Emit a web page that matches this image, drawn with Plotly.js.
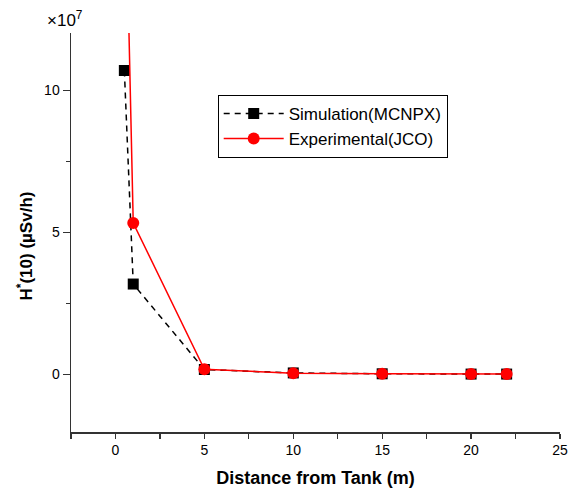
<!DOCTYPE html>
<html>
<head>
<meta charset="utf-8">
<script src="https://cdn.plot.ly/plotly-3.0.1.min.js"></script>
<style>html,body{margin:0;padding:0;background:#fff;}#chart{width:568px;height:488px;}</style>
</head>
<body>
<div id="chart"></div>
<script>
// Values in units of 1e7 µSv/h
const simDistance = [0.5, 1, 5, 10, 15, 20, 22];
const simDose = [10.7, 3.18, 0.17, 0.05, 0.02, 0.01, 0.01];
const expDistance = [0.5, 1, 5, 10, 15, 20, 22];
const expDose = [19.3, 5.33, 0.18, 0.04, 0.02, 0.01, 0.01];
const simName = "Simulation(MCNPX)";
const expName = "Experimental(JCO)";
const xTitle = "Distance from Tank (m)";
const yTitle = "H<sup>*</sup>(10) (µSv/h)";
const exponentLabel = "×10<sup>7</sup>";

const font = "Liberation Sans, Arial, sans-serif";

const traces = [
  {
    x: simDistance, y: simDose, name: simName, type: "scatter", mode: "lines+markers",
    line: {color: "#000", width: 1.5, dash: "6px,5px"},
    marker: {symbol: "square", size: 11, color: "#000"}
  },
  {
    x: expDistance, y: expDose, name: expName, type: "scatter", mode: "lines+markers",
    line: {color: "#ff0000", width: 1.5},
    marker: {symbol: "circle", size: 12, color: "#ff0000"}
  }
];

const layout = {
  width: 568, height: 488,
  margin: {l: 71, r: 8, t: 33, b: 56},
  paper_bgcolor: "#fff", plot_bgcolor: "#fff",
  font: {family: font, size: 14, color: "#000"},
  showlegend: true,
  legend: {
    x: 0.30, y: 0.845, xanchor: "left", yanchor: "top",
    bordercolor: "#000", borderwidth: 1, bgcolor: "#fff",
    font: {family: font, size: 17, color: "#000"},
    itemwidth: 60, tracegroupgap: 0
  },
  xaxis: {
    range: [-2.5, 25], tick0: 0, dtick: 5,
    showgrid: false, zeroline: false,
    showline: true, linecolor: "#333", linewidth: 1.5,
    ticks: "outside", ticklen: 5, tickwidth: 1.2, tickcolor: "#333",
    minor: {dtick: 2.5, tick0: 0, ticks: "outside", ticklen: 5, tickwidth: 1.2, tickcolor: "#333", showgrid: false},
    tickfont: {family: font, size: 14, color: "#000"},
    title: {text: "<b>" + xTitle + "</b>", font: {family: font, size: 18, color: "#000"}, standoff: 15}
  },
  yaxis: {
    range: [-2.03, 12.02], tick0: 0, dtick: 5,
    showgrid: false, zeroline: false,
    showline: true, linecolor: "#333", linewidth: 1.5,
    ticks: "outside", ticklen: 7, tickwidth: 1.2, tickcolor: "#333",
    minor: {dtick: 2.5, tick0: 0, ticks: "outside", ticklen: 4, tickwidth: 1.2, tickcolor: "#333", showgrid: false},
    tickfont: {family: font, size: 14, color: "#000"}
  },
  annotations: [
    {
      text: exponentLabel, xref: "paper", yref: "paper", x: 0, y: 1.0,
      xanchor: "center", yanchor: "bottom", xshift: -6, yshift: 1, showarrow: false,
      font: {family: font, size: 17, color: "#000"}
    },
    {
      text: "<b>" + yTitle + "</b>", xref: "paper", yref: "paper", x: 0, y: 0.465,
      xanchor: "center", yanchor: "middle", xshift: -46, textangle: -90, showarrow: false,
      font: {family: font, size: 17, color: "#000"}
    }
  ]
};

Plotly.newPlot("chart", traces, layout, {displayModeBar: false, staticPlot: true});
</script>
</body>
</html>
